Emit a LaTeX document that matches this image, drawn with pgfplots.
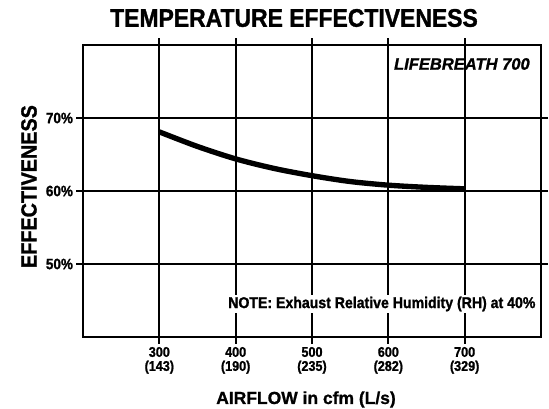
\documentclass[border=0pt]{standalone}
\usepackage{fontspec}
\setmainfont{Liberation Sans}
\newfontfamily\cond[FakeStretch=0.9,FakeBold=1.2]{Liberation Sans Bold}
\newfontfamily\heavy[FakeBold=1]{Liberation Sans Bold}
\newfontfamily\heavyit[FakeBold=1]{Liberation Sans Bold Italic}
\usepackage{pgfplots}
\pgfplotsset{compat=1.18}
\begin{document}
\begin{tikzpicture}
\path[use as bounding box] (0,0) rectangle (411.75pt,-306pt);
\begin{axis}[
 at={(62.25pt,-252.75pt)}, anchor=south west,
 scale only axis, width=343.5pt, height=219pt,
 xmin=200, xmax=800, ymin=40, ymax=80,
 axis line style={line width=2pt},
 xtick={300,400,500,600,700},
 xticklabels={{300\\(143)},{400\\(190)},{500\\(235)},{600\\(282)},{700\\(329)}},
 ytick={50,60,70},
 yticklabels={50\%,60\%,70\%},
 tick align=outside,
 major tick length=5pt,
 tick style={black,line width=1.3pt},
 grid=major, grid style={black,line width=1.3pt},
 xticklabel style={font=\cond\fontsize{10.5}{10.5}\selectfont, align=center, yshift=1pt},
 yticklabel style={font=\cond\fontsize{11.25}{12}\selectfont, xshift=1pt},
]
\addplot[black, line width=4pt, smooth] coordinates {(300,68.1)(350,66.1)(400,64.4)(450,63.1)(500,62.1)(550,61.3)(600,60.8)(650,60.5)(700,60.3)};
\end{axis}
\node[font=\cond\fontsize{19.1}{20}\selectfont] at (220.5pt,-13.5pt) {TEMPERATURE EFFECTIVENESS};
\node[font=\cond\fontsize{16.5}{18}\selectfont, rotate=90] at (21.75pt,-139.9pt) {EFFECTIVENESS};
\node[font=\heavy\fontsize{13.1}{14}\selectfont] at (229.5pt,-299.6pt) {AIRFLOW in cfm (L/s)};
\node[font=\heavyit\fontsize{12.4}{14}\selectfont, anchor=east, inner sep=0pt] at (397.5pt,-48pt) {LIFEBREATH 700};
\node[font=\cond\fontsize{11.75}{13}\selectfont, anchor=east, fill=white, inner sep=1pt] at (402.75pt,-228pt) {NOTE: Exhaust Relative Humidity (RH) at 40\%};
\end{tikzpicture}
\end{document}
